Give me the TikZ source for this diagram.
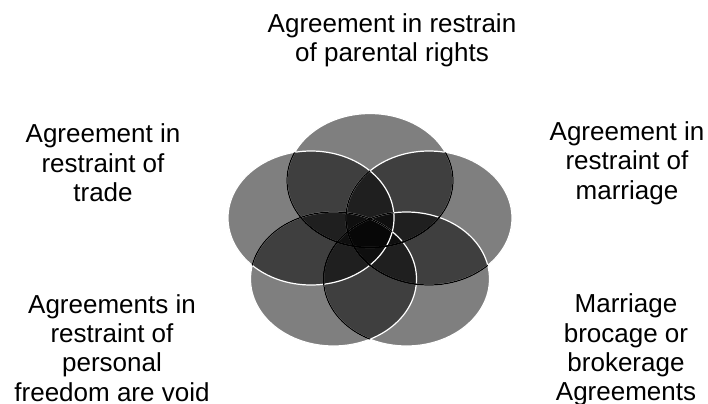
\documentclass[tikz,border=0pt]{standalone}
\usepackage{fontspec}
\setmainfont{Liberation Sans}

\begin{document}
\begin{tikzpicture}[x=0.75pt, y=-0.75pt,
  lbl/.style={align=center, inner sep=0pt, font=\fontsize{19.5}{22}\selectfont},
  petal/.style={fill=black, fill opacity=0.5},
  rim/.style={draw=white, line width=0.9pt},
  seam/.style={draw=black, line width=0.9pt},
  oval/.style={x radius=83, y radius=67}
]
\useasboundingbox (0,0) rectangle (708,404);
% centres of the five ellipses, lowest first
\coordinate (parental) at (370,180.5);
\coordinate (marriage) at (429,218);
\coordinate (brokerage) at (406.5,279);
\coordinate (freedom) at (333.5,279);
\coordinate (trade) at (311,218);
\foreach \c in {parental,marriage,brokerage,freedom,trade}
  \fill[petal] (\c) ellipse [oval];
\foreach \c in {parental,marriage,brokerage,freedom,trade}
  \draw[rim] (\c) ellipse [oval];
% rims lying under a later ellipse turn black
\foreach \c/\prev in {marriage/{parental}, brokerage/{parental,marriage}, freedom/{parental,marriage,brokerage}, trade/{parental,marriage,brokerage,freedom}} {
  \begin{scope}
    \clip (\c) ellipse [oval];
    \foreach \d in \prev \draw[seam] (\d) ellipse [oval];
  \end{scope}
}
\node[lbl] (parentalTxt) at (392,40) {Agreement in restrain\\of parental rights};
\node[lbl] (tradeTxt) at (103,163) {Agreement in\\restraint of\\trade};
\node[lbl] (marriageTxt) at (627,163) {Agreement in\\restraint of\\marriage};
\node[lbl] (freedomTxt) at (112,348) {Agreements in\\restraint of\\personal\\freedom are void};
\node[lbl] (brokerageTxt) at (626,350) {Marriage\\brocage or\\brokerage\\Agreements};
\end{tikzpicture}
\end{document}
